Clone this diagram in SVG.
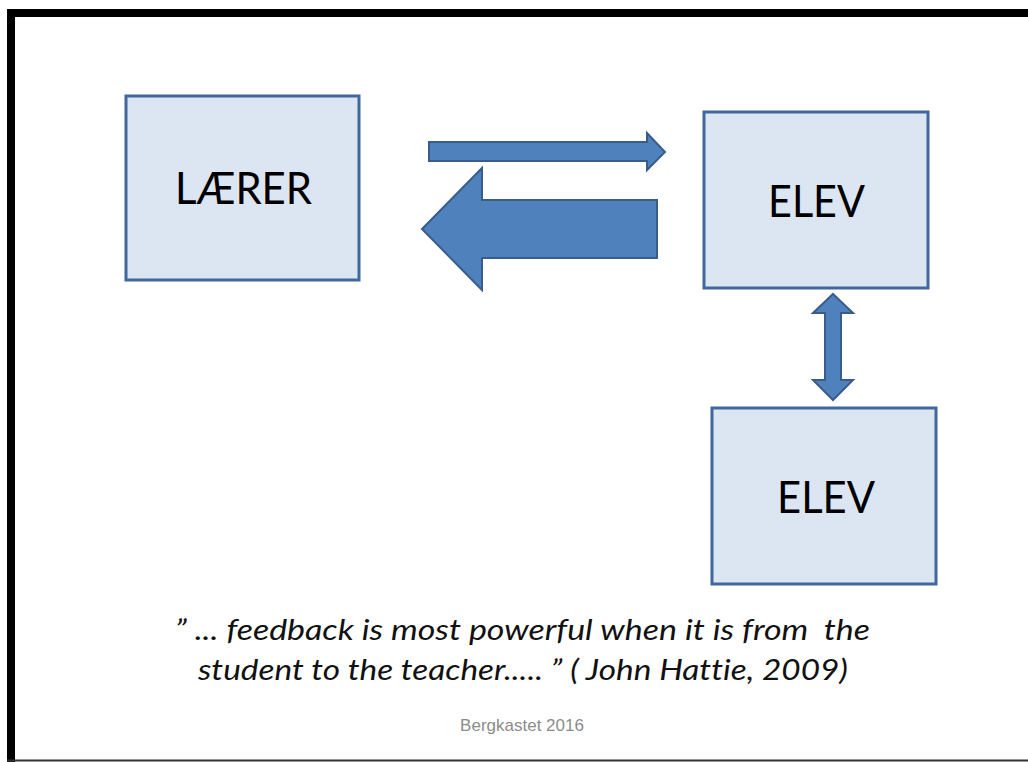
<svg xmlns="http://www.w3.org/2000/svg" width="1028" height="762" viewBox="0 0 1028 762">
<style>
.box{fill:#dce6f2;stroke:#41689c;stroke-width:3}
.arrow{fill:#4f81bd;stroke:#385d8a;stroke-width:2;stroke-linejoin:miter}
.lbl{font-family:Lato,"Open Sans","Liberation Sans",sans-serif;font-size:44px;fill:#000;text-anchor:middle}
.quote{font-family:Lato,"Open Sans","Liberation Sans",sans-serif;font-style:italic;font-size:29px;fill:#111;font-variant-ligatures:none;white-space:pre}
.foot{font-family:"Liberation Sans",Arial,sans-serif;font-size:17px;fill:#8c8c8c;text-anchor:middle}
</style>
<rect x="0" y="0" width="1028" height="762" fill="#ffffff"/>
<path d="M11,762 L11,13 L1030,13" fill="none" stroke="#000" stroke-width="8"/>
<line x1="7" y1="760.5" x2="1028" y2="760.5" stroke="#333" stroke-width="2"/>
<g id="laerer">
<rect class="box" x="126" y="96" width="233" height="184"/>
<text class="lbl" x="243.5" y="204" textLength="137" lengthAdjust="spacingAndGlyphs">LÆRER</text>
</g>
<g id="elev1">
<rect class="box" x="704" y="112" width="224" height="176"/>
<text class="lbl" x="816.5" y="217" textLength="97" lengthAdjust="spacingAndGlyphs">ELEV</text>
</g>
<g id="elev2">
<rect class="box" x="712" y="408" width="224" height="176"/>
<text class="lbl" x="826" y="513" textLength="98" lengthAdjust="spacingAndGlyphs">ELEV</text>
</g>
<g id="connectors">
<polygon class="arrow" points="429,142 647,142 647,133 665,152 647,170 647,161 429,161"/>
<polygon class="arrow" points="657,200 482,200 482,168 422,229 482,290 482,258 657,258"/>
<polygon class="arrow" points="833,294 853,313 841,313 841,380 853,380 833,400 813,380 825,380 825,313 813,313"/>
</g>
<g id="quote">
<text class="quote" x="175" y="640" textLength="695" lengthAdjust="spacingAndGlyphs" xml:space="preserve">” ... feedback is most powerful when it is from  the</text>
<text class="quote" x="198" y="680" textLength="650" lengthAdjust="spacingAndGlyphs">student to the teacher..... ” ( John Hattie, 2009)</text>
</g>
<text class="foot" x="522" y="731">Bergkastet 2016</text>
</svg>
